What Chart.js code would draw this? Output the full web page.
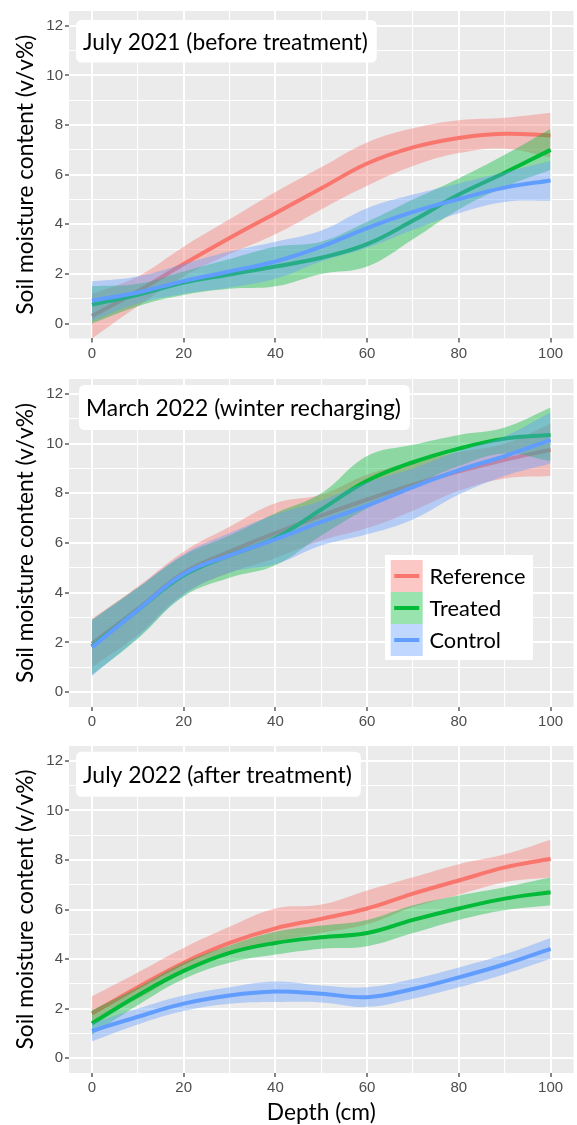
<!DOCTYPE html>
<html>
<head>
<meta charset="utf-8">
<script src="https://cdn.jsdelivr.net/npm/chart.js@4/dist/chart.umd.min.js"></script>
<style>
  html, body { margin: 0; padding: 0; background: #ffffff; }
  #wrap { position: relative; width: 577px; height: 1125px; overflow: hidden; }
  canvas { position: absolute; left: 0; }
</style>
</head>
<body>
<div id="wrap">
  <canvas id="c1" width="577" height="368" style="top:0px"></canvas>
  <canvas id="c2" width="577" height="367" style="top:368px"></canvas>
  <canvas id="c3" width="577" height="390" style="top:735px"></canvas>
</div>
<script>
// ---------------- data ----------------
const depthCm = [0, 10, 20, 30, 40, 50, 60, 70, 80, 90, 100];
const xTickValues = [0, 10, 20, 30, 40, 50, 60, 70, 80, 90, 100];
const yTickValues = [0, 1, 2, 3, 4, 5, 6, 7, 8, 9, 10, 11, 12];
const seriesNames = ['Reference', 'Treated', 'Control'];
const panelTitles = ['July 2021 (before treatment)', 'March 2022 (winter recharging)', 'July 2022 (after treatment)'];
const yAxisTitle = 'Soil moisture content (v/v%)';
const xAxisTitle = 'Depth (cm)';

// July 2021 (before treatment)
const jul21RefMean  = [0.3, 1.3, 2.4, 3.45, 4.45, 5.45, 6.45, 7.1, 7.48, 7.65, 7.58];
const jul21RefLow   = [-0.6, 0.7, 1.9, 2.8, 3.6, 4.6, 5.55, 6.35, 6.87, 7.05, 6.7];
const jul21RefHigh  = [1.2, 1.9, 3.1, 4.2, 5.3, 6.3, 7.3, 7.87, 8.2, 8.3, 8.5];
const jul21TrtMean  = [0.76, 1.16, 1.65, 1.98, 2.3, 2.65, 3.2, 4.15, 5.2, 6.08, 7.0];
const jul21TrtLow   = [0.0, 0.7, 1.15, 1.4, 1.5, 2.0, 2.3, 3.4, 4.6, 5.5, 6.2];
const jul21TrtHigh  = [1.5, 1.6, 2.1, 2.6, 3.1, 3.3, 4.1, 5.0, 5.85, 6.8, 7.85];
const jul21CtlMean  = [0.92, 1.25, 1.71, 2.1, 2.5, 3.1, 3.85, 4.5, 5.02, 5.48, 5.77];
const jul21CtlLow   = [0.1, 0.8, 1.2, 1.45, 1.8, 2.5, 3.05, 3.78, 4.45, 4.9, 4.95];
const jul21CtlHigh  = [1.7, 1.9, 2.4, 2.9, 3.3, 3.75, 4.65, 5.2, 5.65, 6.1, 6.55];

// March 2022 (winter recharging)
const mar22RefMean  = [1.95, 3.35, 4.8, 5.65, 6.4, 7.1, 7.75, 8.35, 8.88, 9.35, 9.75];
const mar22RefLow   = [1.0, 2.3, 3.95, 4.8, 5.4, 6.1, 6.6, 7.3, 8.1, 8.6, 8.7];
const mar22RefHigh  = [2.95, 4.25, 5.65, 6.65, 7.6, 7.95, 8.75, 9.25, 9.65, 10.0, 10.8];
const mar22TrtMean  = [1.85, 3.3, 4.7, 5.5, 6.2, 7.35, 8.5, 9.25, 9.8, 10.2, 10.35];
const mar22TrtLow   = [0.7, 2.15, 3.85, 4.6, 5.1, 6.3, 7.4, 8.3, 9.1, 9.6, 9.3];
const mar22TrtHigh  = [2.9, 4.2, 5.5, 6.3, 7.2, 8.0, 9.5, 9.95, 10.35, 10.65, 11.45];
const mar22CtlMean  = [1.8, 3.3, 4.75, 5.5, 6.15, 6.85, 7.5, 8.25, 8.93, 9.5, 10.15];
const mar22CtlLow   = [0.65, 2.2, 3.9, 4.8, 5.15, 5.9, 6.35, 6.95, 7.95, 8.7, 9.2];
const mar22CtlHigh  = [2.9, 4.2, 5.55, 6.4, 7.15, 7.7, 8.45, 9.0, 9.7, 10.3, 11.25];

// July 2022 (after treatment)
const jul22RefMean  = [1.8, 2.86, 3.85, 4.65, 5.24, 5.62, 6.04, 6.64, 7.17, 7.7, 8.05];
const jul22RefLow   = [1.5, 2.4, 3.45, 4.25, 4.7, 5.05, 5.4, 6.1, 6.6, 7.1, 7.3];
const jul22RefHigh  = [2.5, 3.46, 4.45, 5.3, 6.04, 6.2, 6.77, 7.3, 7.83, 8.23, 8.82];
const jul22TrtMean  = [1.4, 2.53, 3.52, 4.25, 4.65, 4.88, 5.05, 5.58, 6.04, 6.44, 6.7];
const jul22TrtLow   = [0.94, 2.13, 3.19, 3.85, 4.18, 4.42, 4.52, 5.05, 5.58, 5.97, 6.17];
const jul22TrtHigh  = [1.93, 2.85, 3.85, 4.55, 5.1, 5.35, 5.58, 6.17, 6.57, 6.9, 7.3];
const jul22CtlMean  = [1.1, 1.67, 2.2, 2.53, 2.69, 2.6, 2.46, 2.79, 3.26, 3.79, 4.41];
const jul22CtlLow   = [0.68, 1.36, 1.9, 2.2, 2.27, 2.25, 2.07, 2.4, 2.86, 3.39, 4.01];
const jul22CtlHigh  = [1.4, 2.0, 2.53, 2.86, 3.09, 2.93, 2.86, 3.19, 3.66, 4.19, 4.85];

// ---------------- style ----------------
const lineColors = ['#F8766D', '#00BA38', '#619CFF'];
const bandColors = ['rgba(248,118,109,0.4)', 'rgba(0,186,56,0.4)', 'rgba(97,156,255,0.4)'];
const textFamily = 'Lato, "Open Sans", sans-serif';
const tickFamily = '"Liberation Sans", Arial, sans-serif';

function fitSize(text, targetW) {
  const c = document.createElement('canvas').getContext('2d');
  c.font = '20px ' + textFamily;
  return 20 * targetW / c.measureText(text).width;
}

const yTitleSize = fitSize(yAxisTitle, 280);
const xTitleSize = fitSize(xAxisTitle, 109);
const legendSize = fitSize('Reference', 96);
const titleTargets = [285, 315, 269];

function pts(arr) { return depthCm.map((x, k) => ({ x: x, y: arr[k] })); }

function buildDatasets(groups) {
  const ds = [];
  groups.forEach((g, i) => {
    const base = ds.length;
    const ord = (3 - i) * 3;
    ds.push({ label: seriesNames[i] + ' low', data: pts(g.low), borderWidth: 0, borderColor: 'rgba(0,0,0,0)',
      pointRadius: 0, fill: false, order: ord + 2, tension: 0.4 });
    ds.push({ label: seriesNames[i] + ' high', data: pts(g.high), borderWidth: 0, borderColor: 'rgba(0,0,0,0)',
      pointRadius: 0, fill: base, backgroundColor: bandColors[i], order: ord + 1, tension: 0.4 });
    ds.push({ label: seriesNames[i], data: pts(g.mean), borderWidth: 4, borderColor: lineColors[i],
      pointRadius: 0, fill: false, order: ord, tension: 0.4, borderCapStyle: 'butt' });
  });
  return ds;
}

const bgPlugin = {
  id: 'panelBg',
  beforeDraw(chart) {
    const { ctx, chartArea: a } = chart;
    ctx.save();
    ctx.fillStyle = '#EBEBEB';
    ctx.fillRect(a.left, a.top, a.right - a.left, a.bottom - a.top);
    ctx.restore();
  }
};

function rr(ctx, x, y, w, h, r) {
  ctx.beginPath();
  ctx.moveTo(x + r, y);
  ctx.lineTo(x + w - r, y);
  ctx.quadraticCurveTo(x + w, y, x + w, y + r);
  ctx.lineTo(x + w, y + h - r);
  ctx.quadraticCurveTo(x + w, y + h, x + w - r, y + h);
  ctx.lineTo(x + r, y + h);
  ctx.quadraticCurveTo(x, y + h, x, y + h - r);
  ctx.lineTo(x, y + r);
  ctx.quadraticCurveTo(x, y, x + r, y);
  ctx.closePath();
}

const annotPlugin = {
  id: 'annot',
  afterDraw(chart, args, opts) {
    const ctx = chart.ctx;
    const L = opts.label;
    if (L) {
      ctx.save();
      ctx.font = L.size + 'px ' + textFamily;
      const w = ctx.measureText(L.text).width;
      const x0 = L.textX - 7, x1 = L.textX + w + 9;
      rr(ctx, x0, L.top, x1 - x0, L.bottom - L.top, 6);
      ctx.fillStyle = '#FFFFFF';
      ctx.fill();
      ctx.fillStyle = '#000000';
      ctx.textBaseline = 'middle';
      ctx.textAlign = 'left';
      ctx.fillText(L.text, L.textX, (L.top + L.bottom) / 2 + 1);
      ctx.restore();
    }
    const G = opts.legend;
    if (G) {
      ctx.save();
      ctx.fillStyle = '#FFFFFF';
      ctx.fillRect(G.left, G.top, G.right - G.left, G.bottom - G.top);
      const rowH = (G.keyBottom - G.keyTop) / seriesNames.length;
      seriesNames.forEach((name, i) => {
        const y0 = G.keyTop + i * rowH;
        ctx.fillStyle = bandColors[i];
        ctx.fillRect(G.keyLeft, y0, G.keyW, rowH);
        ctx.strokeStyle = lineColors[i];
        ctx.lineWidth = 4;
        ctx.beginPath();
        ctx.moveTo(G.keyLeft + 3.5, y0 + rowH / 2);
        ctx.lineTo(G.keyLeft + G.keyW - 3.5, y0 + rowH / 2);
        ctx.stroke();
        ctx.fillStyle = '#000000';
        ctx.font = G.size + 'px ' + textFamily;
        ctx.textBaseline = 'middle';
        ctx.fillText(name, G.textX, y0 + rowH / 2 + 1);
      });
      ctx.restore();
    }
  }
};

function makeChart(id, groups, cfg) {
  return new Chart(document.getElementById(id), {
    type: 'line',
    data: { datasets: buildDatasets(groups) },
    plugins: [bgPlugin, annotPlugin],
    options: {
      responsive: false,
      animation: false,
      layout: { padding: { top: cfg.padTop, left: 0, right: 3.5, bottom: 0 } },
      plugins: {
        legend: { display: false },
        tooltip: { enabled: false },
        annot: { label: cfg.label, legend: cfg.legend || null }
      },
      scales: {
        x: {
          type: 'linear', min: -5, max: 105,
          afterBuildTicks: s => { s.ticks = xTickValues.map(v => ({ value: v })); },
          afterFit: s => { s.height = cfg.xAxisH; },
          ticks: { autoSkip: false, maxRotation: 0, minRotation: 0, color: '#4D4D4D',
            font: { family: tickFamily, size: 15 }, padding: 2,
            callback: v => (v % 20 === 0 ? String(v) : '') },
          grid: { color: '#FFFFFF',
            lineWidth: c => (c.tick && c.tick.value % 20 === 0 ? 2 : 1.1),
            drawTicks: true, tickLength: 4, tickWidth: 1.2,
            tickColor: c => (c.tick && c.tick.value % 20 === 0 ? '#333333' : 'rgba(0,0,0,0)') },
          border: { display: false },
          title: cfg.xTitle ? { display: true, text: xAxisTitle, color: '#000000',
            font: { family: textFamily, size: xTitleSize, lineHeight: 1 }, padding: { top: 0, bottom: 1 } } : { display: false }
        },
        y: {
          type: 'linear', min: -0.6, max: 12.6,
          afterBuildTicks: s => { s.ticks = yTickValues.map(v => ({ value: v })); },
          afterFit: s => { s.width = 69; },
          ticks: { autoSkip: false, color: '#4D4D4D', font: { family: tickFamily, size: 15 }, padding: 2,
            callback: v => (v % 2 === 0 ? String(v) : '') },
          grid: { color: '#FFFFFF',
            lineWidth: c => (c.tick && c.tick.value % 2 === 0 ? 2 : 1.1),
            drawTicks: true, tickLength: 4, tickWidth: 1.2,
            tickColor: c => (c.tick && c.tick.value % 2 === 0 ? '#333333' : 'rgba(0,0,0,0)') },
          border: { display: false },
          title: { display: true, text: yAxisTitle, color: '#000000',
            font: { family: textFamily, size: yTitleSize, lineHeight: 1 },
            padding: { top: 26 - yTitleSize / 2, bottom: 0 } }
        }
      }
    }
  });
}

makeChart('c1', [
  { mean: jul21RefMean, low: jul21RefLow, high: jul21RefHigh },
  { mean: jul21TrtMean, low: jul21TrtLow, high: jul21TrtHigh },
  { mean: jul21CtlMean, low: jul21CtlLow, high: jul21CtlHigh }
], { padTop: 6, xAxisH: 29.6, xTitle: false,
  label: { text: panelTitles[0], size: fitSize(panelTitles[0], titleTargets[0]), textX: 83, top: 20, bottom: 62.5 } });

makeChart('c2', [
  { mean: mar22RefMean, low: mar22RefLow, high: mar22RefHigh },
  { mean: mar22TrtMean, low: mar22TrtLow, high: mar22TrtHigh },
  { mean: mar22CtlMean, low: mar22CtlLow, high: mar22CtlHigh }
], { padTop: 6, xAxisH: 28, xTitle: false,
  label: { text: panelTitles[1], size: fitSize(panelTitles[1], titleTargets[1]), textX: 86, top: 17, bottom: 62 },
  legend: { left: 385, right: 533, top: 187, bottom: 292, keyLeft: 390.7, keyW: 32, keyTop: 192, keyBottom: 288,
    textX: 429.5, size: legendSize } });

makeChart('c3', [
  { mean: jul22RefMean, low: jul22RefLow, high: jul22RefHigh },
  { mean: jul22TrtMean, low: jul22TrtLow, high: jul22TrtHigh },
  { mean: jul22CtlMean, low: jul22CtlLow, high: jul22CtlHigh }
], { padTop: 6, xAxisH: 52, xTitle: true,
  label: { text: panelTitles[2], size: fitSize(panelTitles[2], titleTargets[2]), textX: 83, top: 16.7, bottom: 61.7 } });
</script>
</body>
</html>
